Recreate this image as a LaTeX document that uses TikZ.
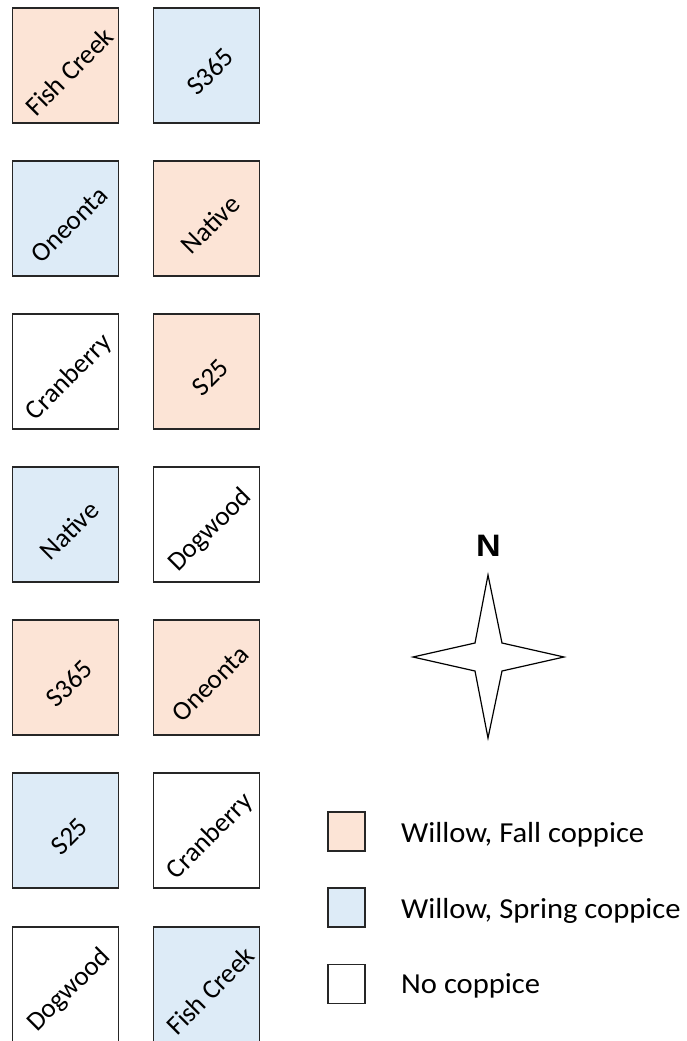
\documentclass[tikz,border=0pt]{standalone}
\usepackage{fontspec}
\setmainfont{Carlito}
\newfontfamily\headfont{Liberation Sans}
\definecolor{fallc}{HTML}{FCE4D6}
\definecolor{springc}{HTML}{DDEBF7}
\definecolor{edgec}{HTML}{262626}
\begin{document}
\begin{tikzpicture}[x=1pt,y=-1pt,
  plot/.style={draw=edgec, line width=1.3pt, rectangle, minimum width=106pt, minimum height=115pt, inner sep=0pt},
  fall/.style={plot, fill=fallc},
  spring/.style={plot, fill=springc},
  none/.style={plot, fill=white},
  lab/.style={font=\fontsize{27}{29}\selectfont, rotate=45, inner sep=0pt, xshift=-1.5pt, yshift=-7pt},
  key/.style={draw=edgec, line width=1.3pt, rectangle, minimum width=37pt, minimum height=39pt, inner sep=0pt},
  keytext/.style={font=\fontsize{29}{31}\selectfont, anchor=base west, inner sep=0pt, xscale=1.055}
]
\useasboundingbox (0,0) rectangle (686,1041);
\clip (0,0) rectangle (686,1041);
\fill[white] (0,0) rectangle (686,1041);

% plot grid: two columns, seven rows
\node[fall]   (a1) at (65.5,65.5)  {};
\node[spring] (b1) at (206.5,65.5) {};
\node[spring] (a2) at (65.5,218.5)  {};
\node[fall]   (b2) at (206.5,218.5) {};
\node[none]   (a3) at (65.5,371.5)  {};
\node[fall]   (b3) at (206.5,371.5) {};
\node[spring] (a4) at (65.5,524.5)  {};
\node[none]   (b4) at (206.5,524.5) {};
\node[fall]   (a5) at (65.5,677.5)  {};
\node[fall]   (b5) at (206.5,677.5) {};
\node[spring] (a6) at (65.5,830.5)  {};
\node[none]   (b6) at (206.5,830.5) {};
\node[none]   (a7) at (65.5,984.5)  {};
\node[spring] (b7) at (206.5,984.5) {};

\node[lab] (ta1) at (a1) {Fish Creek};
\node[lab] (tb1) at (b1) {S365};
\node[lab] (ta2) at (a2) {Oneonta};
\node[lab] (tb2) at (b2) {Native};
\node[lab] (ta3) at (a3) {Cranberry};
\node[lab] (tb3) at (b3) {S25};
\node[lab] (ta4) at (a4) {Native};
\node[lab] (tb4) at (b4) {Dogwood};
\node[lab] (ta5) at (a5) {S365};
\node[lab] (tb5) at (b5) {Oneonta};
\node[lab] (ta6) at (a6) {S25};
\node[lab] (tb6) at (b6) {Cranberry};
\node[lab] (ta7) at (a7) {Dogwood};
\node[lab] (tb7) at (b7) {Fish Creek};

% north arrow
\draw[line width=1.2pt, line join=miter, fill=white]
  (488,575) -- (502,643) -- (564,657) -- (502,671) -- (488,738)
  -- (475,671) -- (413,657) -- (475,643) -- cycle;
\node[font=\headfont\bfseries\fontsize{31}{33}\selectfont, inner sep=0pt, xscale=1.1] (north) at (488.5,546) {N};

% legend
\node[key, fill=fallc]   (k1) at (346.5,831.5) {};
\node[key, fill=springc] (k2) at (346.5,907.5) {};
\node[key, fill=white]   (k3) at (346.5,984)   {};
\node[keytext] (l1) at (401,842) {Willow, Fall coppice};
\node[keytext] (l2) at (401,918) {Willow, Spring coppice};
\node[keytext] (l3) at (401,993) {No coppice};
\end{tikzpicture}
\end{document}
